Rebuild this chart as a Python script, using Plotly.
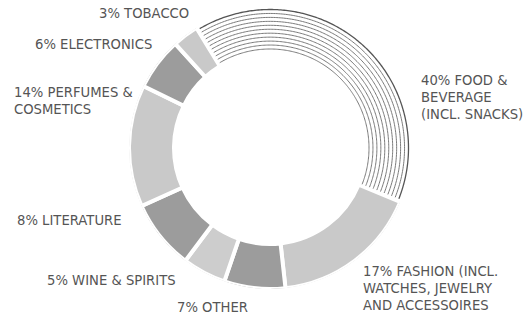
import numpy as np
import plotly.graph_objects as go

# Data (clockwise order, starting with Food & Beverage)
categories = ["FOOD &<br>BEVERAGE<br>(INCL. SNACKS)", "FASHION (INCL.<br>WATCHES, JEWELRY<br>AND ACCESSOIRES",
              "OTHER", "WINE & SPIRITS", "LITERATURE", "PERFUMES &<br>COSMETICS", "ELECTRONICS", "TOBACCO"]
values = [40, 17, 7, 5, 8, 14, 6, 3]
colors = ["#ffffff", "#c9c9c9", "#9c9c9c", "#cdcdcd", "#9c9c9c", "#c9c9c9", "#9c9c9c", "#c9c9c9"]

start_angle = 328.5  # where the first segment starts (clockwise from top)
R_OUT = 141
R_IN = 96

total = sum(values)
widths = [v / total * 360 for v in values]
starts = np.concatenate([[0], np.cumsum(widths)[:-1]]) + start_angle
centers = starts + np.array(widths) / 2

fig = go.Figure()
fig.add_trace(go.Barpolar(
    theta=centers, width=widths, r=[R_OUT - R_IN] * len(values), base=[R_IN] * len(values),
    marker=dict(color=colors, line=dict(color="white", width=4)),
    hoverinfo="skip", showlegend=False,
))

# concentric hatch arcs for the first segment
th = np.linspace(starts[0] + 1.0, starts[0] + widths[0] - 1.0, 200)
radii = np.linspace(99, 138.5, 11)
for i, rr in enumerate(radii):
    fig.add_trace(go.Scatterpolar(
        theta=th, r=[rr] * len(th), mode="lines",
        line=dict(color="#555555" if i == len(radii) - 1 else "#7a7a7a", width=1.3 if i == len(radii) - 1 else 1),
        hoverinfo="skip", showlegend=False,
    ))

W, H = 531, 324
cx, cy = 270, 148
fig.update_layout(
    width=W, height=H, margin=dict(l=0, r=0, t=0, b=0),
    paper_bgcolor="white", plot_bgcolor="white",
    polar=dict(
        domain=dict(x=[(cx - R_OUT) / W, (cx + R_OUT) / W], y=[(H - cy - R_OUT) / H, (H - cy + R_OUT) / H]),
        bgcolor="rgba(0,0,0,0)",
        radialaxis=dict(range=[0, R_OUT], visible=False, showgrid=False),
        angularaxis=dict(rotation=90, direction="clockwise", visible=False, showgrid=False),
    ),
)

# label positions (pixel, left edge / vertical center)
label_pos = [(419, 97), (361, 288), (175, 307), (45, 280), (15, 220), (12, 101), (33, 45), (97, 14)]
for cat, v, (px, py) in zip(categories, values, label_pos):
    fig.add_annotation(
        x=px / W, y=1 - py / H, xref="paper", yref="paper", xanchor="left", yanchor="middle",
        text=f"{v}% {cat}", showarrow=False, align="left",
        font=dict(family="DejaVu Sans", size=13.2, color="#555555"),
    )

fig.write_html("out.html")
